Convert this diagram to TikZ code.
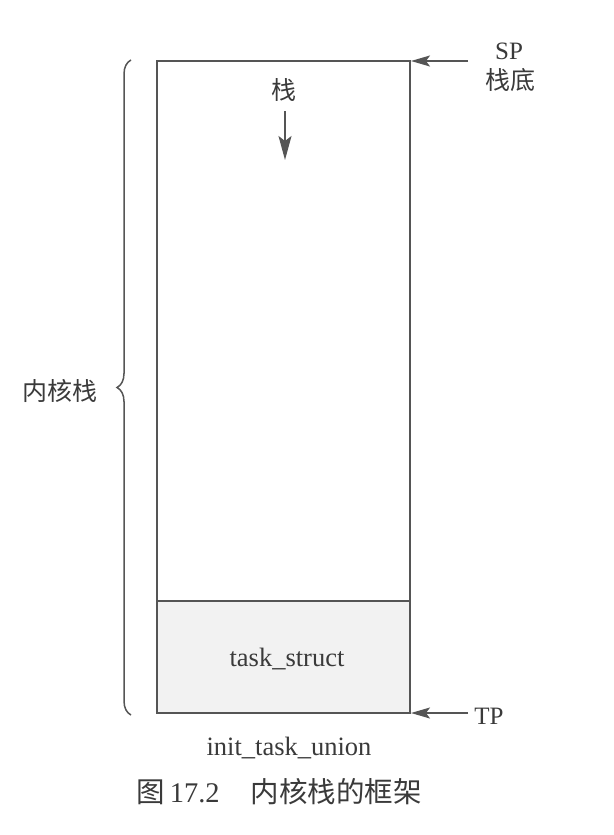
\documentclass[tikz,border=0pt]{standalone}
\usepackage{fontspec}
\setmainfont{Liberation Serif}
\newfontfamily\cjk{Noto Sans CJK SC}
\usetikzlibrary{arrows.meta,decorations.pathreplacing}
\definecolor{ln}{HTML}{555555}
\definecolor{tx}{HTML}{3A3A3A}
\definecolor{fillg}{HTML}{F2F2F2}
\tikzset{
  lbl/.style={text=tx,font=\fontsize{25}{28}\selectfont,inner sep=0pt},
  biglbl/.style={text=tx,font=\fontsize{26.5}{30}\selectfont,inner sep=0pt},
  cjklbl/.style={text=tx,font=\fontsize{25}{28}\selectfont\cjk,inner sep=0pt},
  caplbl/.style={text=tx,font=\fontsize{28.5}{32}\selectfont,inner sep=0pt},
  ptr/.style={draw=ln,line width=1.6pt,-{Stealth[length=19pt,width=11pt,inset=4pt]}},
  bigptr/.style={draw=ln,line width=1.6pt,-{Stealth[length=24pt,width=13pt,inset=5pt]}},
}
\begin{document}
\begin{tikzpicture}[x=1pt,y=-1pt]
\useasboundingbox (0,0) rectangle (613,835);
% task_struct region
\fill[fillg] (157,601) rectangle (410,713);
\draw[ln,line width=2pt] (157,61) rectangle (410,713);
\draw[ln,line width=1.8pt] (157,601) -- (410,601);
\node[biglbl] (ts) at (287,659) {task\_struct};
\node[biglbl] (itu) at (289,748) {init\_task\_union};
\node[caplbl] (cap) at (279,792) {{\cjk 图}\hspace{5pt}17.2\hspace{31pt}{\cjk 内核栈的框架}};
% stack arrow
\node[cjklbl] (zhan) at (284,90) {栈};
\coordinate (za) at (285,111);
\coordinate (zb) at (285,160);
\draw[bigptr] (za) -- (zb);
% SP
\node[lbl] (sp) at (509,51) {SP};
\node[cjklbl] (spd) at (510,80) {栈底};
\coordinate (spa) at (468,61);
\coordinate (spb) at (411,61);
\draw[ptr] (spa) -- (spb);
% TP
\node[lbl] (tp) at (489,716) {TP};
\coordinate (tpa) at (468,713);
\coordinate (tpb) at (411,713);
\draw[ptr] (tpa) -- (tpb);
% brace
\coordinate (b1) at (131,715);
\coordinate (b2) at (131,60);
\draw[ln,line width=1.5pt,decorate,decoration={brace,amplitude=14pt}] (b1) -- (b2);
\node[cjklbl] (nhz) at (60,391) {内核栈};
\end{tikzpicture}
\end{document}
